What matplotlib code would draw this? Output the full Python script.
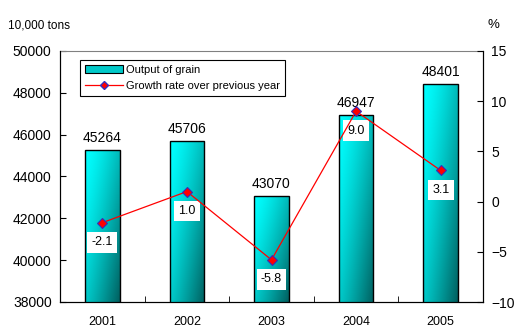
import numpy as np
import matplotlib.pyplot as plt
from matplotlib.lines import Line2D
from matplotlib.patches import Patch

plt.rcParams['font.family'] = ['Liberation Sans', 'DejaVu Sans']

years = ['2001', '2002', '2003', '2004', '2005']
output = [45264, 45706, 43070, 46947, 48401]
growth = [-2.1, 1.0, -5.8, 9.0, 3.1]

fig = plt.figure(figsize=(5.21, 3.36), dpi=100)
ax = fig.add_axes([60/521, 34/336, 423/521, 251/336])
x = np.arange(len(years))

bars = ax.bar(x, output, width=0.41, color='none', edgecolor='black',
              linewidth=1, zorder=3)
ax.set_xlim(-0.5, 4.5)
ax.set_ylim(38000, 50000)

# gradient fill: bright cyan top-left to dark teal bottom-right
gx, gy = np.meshgrid(np.linspace(0, 1, 80), np.linspace(0, 1, 80))
t = np.clip(0.55 * gx + 0.45 * gy, 0, 1) ** 1.4
c0 = np.array([0, 255, 255]) / 255
c1 = np.array([0, 95, 95]) / 255
grad = c0 + (c1 - c0) * t[..., None]
for b, val in zip(bars, output):
    x0, w = b.get_x(), b.get_width()
    im = ax.imshow(grad, extent=[x0, x0 + w, 38000, val], origin='upper',
                   aspect='auto', zorder=2)
    im.set_clip_path(b)
    ax.text(x0 + w / 2, val + 250, str(val), ha='center', va='bottom', fontsize=10)

ax.set_xticks(x)
ax.set_xticklabels(years, fontsize=9)
ax.set_xticks(np.arange(-0.5, 5, 1), minor=True)
ax.tick_params(axis='x', which='major', length=0, pad=10)
ax.tick_params(axis='x', which='minor', length=4, direction='in')
ax.set_yticks(range(38000, 50001, 2000))
ax.tick_params(axis='y', labelsize=10, length=4, direction='in', pad=6)
ax.spines['top'].set_color('#808080')

ax2 = ax.twinx()
ax2.set_ylim(-10, 15)
ax2.set_yticks(range(-10, 16, 5))
ax2.tick_params(axis='y', labelsize=10, length=4, direction='in', pad=6)
ax2.spines['top'].set_visible(False)
ax2.plot(x, growth, color='red', linewidth=0.9, marker='D', markersize=5,
         markerfacecolor='red', markeredgecolor='#3030c0', markeredgewidth=0.8,
         zorder=4)
for xi, g in zip(x, growth):
    ax2.annotate(f'{g:.1f}', (xi, g), xytext=(0, -14), textcoords='offset points',
                 ha='center', va='center', fontsize=9,
                 bbox=dict(boxstyle='square,pad=0.35', fc='white', ec='none'))

fig.text(8/521, 1 - 25/336, '10,000 tons', fontsize=8.5, va='center')
fig.text(488/521, 1 - 25/336, '%', fontsize=9.5, va='center')

handles = [Patch(facecolor='#00c8c8', edgecolor='black', linewidth=0.8),
           Line2D([], [], color='red', linewidth=0.9, marker='D', markersize=4,
                  markerfacecolor='red', markeredgecolor='#3030c0')]
leg = ax.legend(handles, ['Output of grain', 'Growth rate over previous year'],
                loc='upper left', bbox_to_anchor=(20/423, 1 - 9/251), fontsize=8,
                frameon=True, fancybox=False, edgecolor='black', framealpha=1,
                borderpad=0.45, labelspacing=0.55, handlelength=3.4, handletextpad=0.3,
                borderaxespad=0)
leg.get_frame().set_linewidth(0.8)
leg.set_zorder(10)

fig.savefig('out.png', dpi=100)
